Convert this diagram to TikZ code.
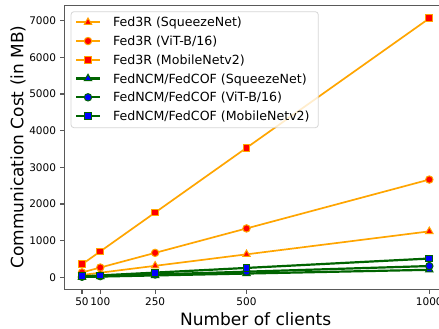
\documentclass[tikz,border=0pt]{standalone}
\usepackage{fontspec}
\setmainfont{DejaVu Sans}
\usetikzlibrary{shapes.geometric}
\definecolor{mplorange}{HTML}{FFA500}
\definecolor{mplgreen}{HTML}{006400}
\definecolor{spinecol}{gray}{0.35}
\tikzset{
  spine/.style={draw=spinecol, line width=1.1pt},
  ticklab/.style={inner sep=0pt, font=\fontsize{10.5}{12}\selectfont},
  axlab/.style={inner sep=0pt, font=\fontsize{17}{20}\selectfont},
  legtext/.style={inner sep=0pt, anchor=base west, font=\fontsize{12.6}{14}\selectfont},
  mktri/.style={regular polygon, regular polygon sides=3, minimum size=8.6pt, inner sep=0pt, line width=1pt},
  mkcircle/.style={circle, minimum size=7.4pt, inner sep=0pt, line width=1pt},
  mksquare/.style={rectangle, minimum size=6.8pt, inner sep=0pt, line width=1pt},
}
\begin{document}
\begin{tikzpicture}[x=1pt, y=-1pt]
\useasboundingbox (0,0) rectangle (439,329);
\clip (0,0) rectangle (439,329);
\fill[white] (0,0) rectangle (439,329);

% data area: x in clients, y in MB
\begin{scope}[shift={(63.72,277.3)}, x=0.36558pt, y=0.03665pt]
  % frame
  \draw[spine] (2.5,-342.5) rectangle (1047.5,7418);
  % y ticks
  \foreach \v in {0,1000,...,7000}{
    \draw[spine] (2.5,\v) -- ++(-4.6pt,0pt);
    \node[ticklab, anchor=east, xshift=-8.4pt] (yt\v) at (2.5,\v) {\v};
  }
  % x ticks
  \foreach \n in {50,100,250,500,1000}{
    \draw[spine] (\n,-342.5) -- ++(0pt,-4.6pt);
    \node[ticklab, anchor=base, yshift=-16pt] (xt\n) at (\n,-342.5) {\n};
  }
  % series: Fed3R (orange) and FedNCM/FedCOF (green)
  \foreach \sid/\k/\lc/\mk/\fc/\lw in {
      os/1.253376/mplorange/mktri/red/1.7,
      ov/2.666496/mplorange/mkcircle/red/1.7,
      om/7.0656/mplorange/mksquare/red/1.7,
      gs/0.2048/mplgreen/mktri/blue/2.2,
      gv/0.3072/mplgreen/mkcircle/blue/2.2,
      gm/0.512/mplgreen/mksquare/blue/2.2}{
    \foreach \n in {50,100,250,500,1000}{
      \coordinate (\sid-\n) at (\n,{\k*\n});
    }
    \draw[\lc, line width=\lw pt, line join=round]
      (\sid-50) -- (\sid-100) -- (\sid-250) -- (\sid-500) -- (\sid-1000);
    \foreach \n in {50,100,250,500,1000}{
      \node[\mk, draw=\lc, fill=\fc] (\sid-m\n) at (\sid-\n) {};
    }
  }
\end{scope}

% axis labels
\node[axlab, anchor=base] (xlabel) at (255.6,325.3) {Number of clients};
\node[axlab, rotate=90] (ylabel) at (18,147) {Communication Cost (in MB)};

% legend
\draw[draw=black!20, fill=white, fill opacity=0.8, draw opacity=0.8, line width=0.8pt, rounded corners=3pt]
  (71,11.7) rectangle (318.3,127.7);
\foreach \i/\lc/\mk/\fc/\lw/\txt in {
    0/mplorange/mktri/red/1.7/{Fed3R (SqueezeNet)},
    1/mplorange/mkcircle/red/1.7/{Fed3R (ViT-B/16)},
    2/mplorange/mksquare/red/1.7/{Fed3R (MobileNetv2)},
    3/mplgreen/mktri/blue/2.2/{FedNCM/FedCOF (SqueezeNet)},
    4/mplgreen/mkcircle/blue/2.2/{FedNCM/FedCOF (ViT-B/16)},
    5/mplgreen/mksquare/blue/2.2/{FedNCM/FedCOF (MobileNetv2)}}{
  \pgfmathsetmacro{\ry}{22.3+18.75*\i}
  \coordinate (lga\i) at (76,\ry);
  \coordinate (lgb\i) at (100,\ry);
  \draw[\lc, line width=\lw pt] (lga\i) -- (lgb\i);
  \node[\mk, draw=\lc, fill=\fc] (lgm\i) at (88,\ry) {};
  \node[legtext] (lgt\i) at (112.8,\ry+4.6) {\txt};
}
\end{tikzpicture}
\end{document}
